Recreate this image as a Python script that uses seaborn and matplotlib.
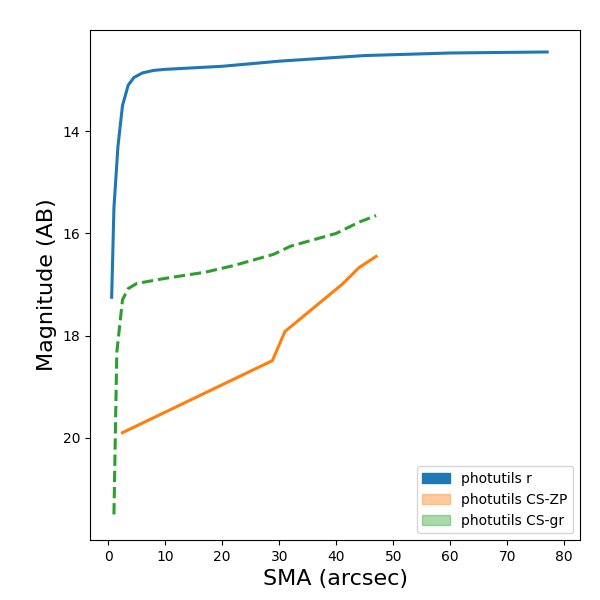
import matplotlib
matplotlib.use("Agg")
import matplotlib.pyplot as plt
from matplotlib.patches import Patch
import seaborn as sns

# photutils r
sma_r = [0.6, 1.0, 1.7, 2.5, 3.5, 4.5, 6, 8, 10, 20, 30, 45, 60, 77]
mag_r = [17.25, 15.5, 14.3, 13.5, 13.1, 12.95, 12.86, 12.81, 12.79, 12.73, 12.63, 12.52, 12.47, 12.45]

# photutils CS-ZP
sma_zp = [2.5, 28.8, 31, 41, 44, 47]
mag_zp = [19.9, 18.49, 17.92, 17.0, 16.67, 16.45]

# photutils CS-gr
sma_gr = [1.0, 1.5, 2.5, 3.5, 5, 10, 17, 22, 29, 32, 40, 44, 47]
mag_gr = [21.5, 18.33, 17.3, 17.08, 16.98, 16.88, 16.76, 16.63, 16.41, 16.25, 16.0, 16.78 - 1.0, 15.65]

c = sns.color_palette("tab10")
fig, ax = plt.subplots(figsize=(6, 6), dpi=100)
sns.lineplot(x=sma_r, y=mag_r, ax=ax, color=c[0], lw=2.2, sort=False)
sns.lineplot(x=sma_zp, y=mag_zp, ax=ax, color=c[1], lw=2.2, sort=False)
sns.lineplot(x=sma_gr, y=mag_gr, ax=ax, color=c[2], lw=2.2, ls="--", sort=False)

ax.set_xlim(-3.2, 82.8)
ax.set_ylim(22.0, 12.02)
ax.set_yticks([14, 16, 18, 20])
ax.set_xticks(range(0, 81, 10))
ax.set_xlabel("SMA (arcsec)", fontsize=16)
ax.set_ylabel("Magnitude (AB)", fontsize=16)
handles = [Patch(color=c[0], label="photutils r"),
           Patch(color=c[1], alpha=0.4, label="photutils CS-ZP"),
           Patch(color=c[2], alpha=0.4, label="photutils CS-gr")]
ax.legend(handles=handles, loc="lower right")
plt.subplots_adjust(left=0.15, right=0.967, top=0.95, bottom=0.1)
plt.savefig("out.png")
